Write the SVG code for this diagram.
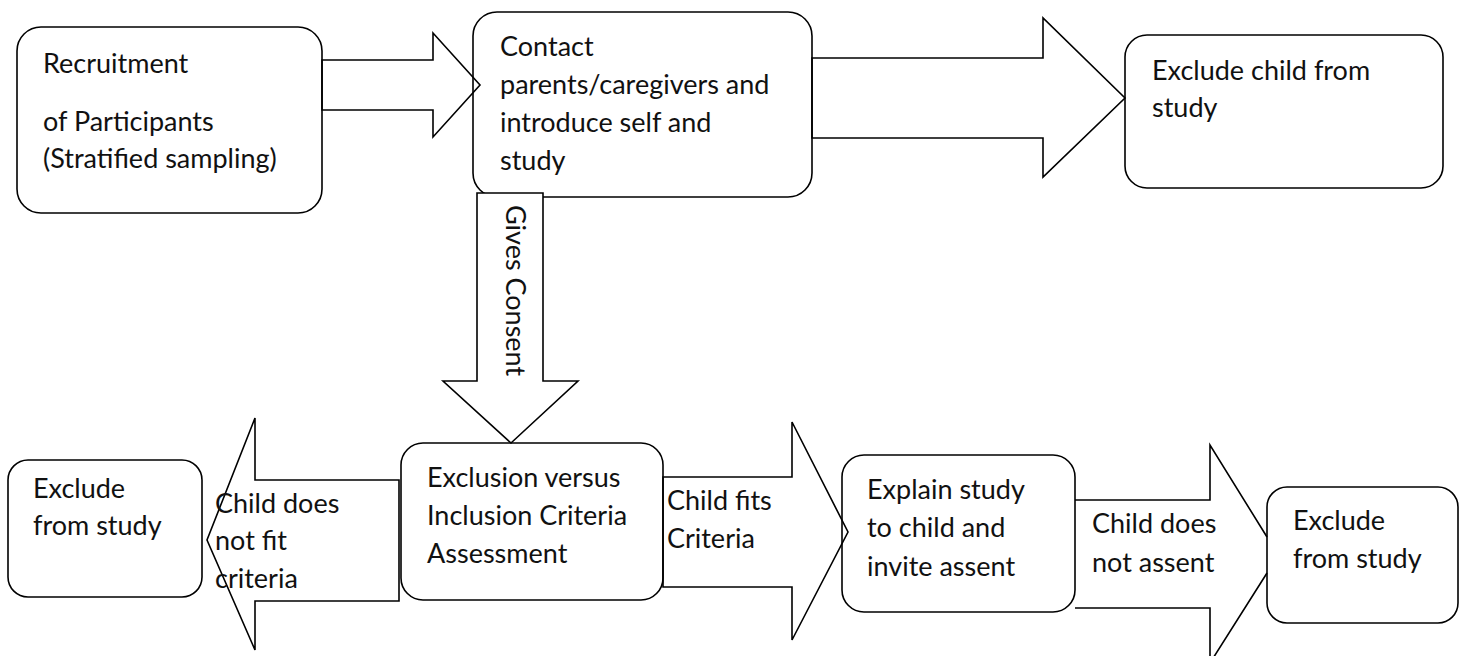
<svg xmlns="http://www.w3.org/2000/svg" width="1466" height="656" viewBox="0 0 1466 656">
<style>
.box{fill:#fff;stroke:#000;stroke-width:1.6}
.arr{fill:none;stroke:#000;stroke-width:1.6;stroke-linejoin:miter}
.arrw{fill:#fff;stroke:#000;stroke-width:1.6}
text{font-family:Lato,"Open Sans","Liberation Sans",sans-serif;font-size:27px;fill:#111}
</style>
<rect width="1466" height="656" fill="#fff"/>
<g id="n1"><rect class="box" x="17" y="27" width="305" height="186" rx="24"/>
<text x="43" y="73">Recruitment</text><text x="43" y="131">of Participants</text><text x="43" y="168">(Stratified sampling)</text></g>
<g id="n2"><rect class="box" x="473" y="12" width="339" height="185" rx="24"/>
<text x="500" y="56">Contact</text><text x="500" y="94">parents/caregivers and</text><text x="500" y="132">introduce self and</text><text x="500" y="170">study</text></g>
<g id="n3"><rect class="box" x="1125" y="35" width="318" height="153" rx="22"/>
<text x="1152" y="80">Exclude child from</text><text x="1152" y="117">study</text></g>
<g id="n4"><rect class="box" x="401" y="443" width="262" height="157" rx="22"/>
<text x="427" y="487">Exclusion versus</text><text x="427" y="525">Inclusion Criteria</text><text x="427" y="563">Assessment</text></g>
<g id="n5"><rect class="box" x="842" y="455" width="233" height="157" rx="22"/>
<text x="867" y="499">Explain study</text><text x="867" y="537">to child and</text><text x="867" y="576">invite assent</text></g>
<g id="n6"><rect class="box" x="8" y="460" width="194" height="137" rx="20"/>
<text x="33" y="498">Exclude</text><text x="33" y="535">from study</text></g>
<g id="n7"><rect class="box" x="1267" y="487" width="191" height="136" rx="20"/>
<text x="1293" y="530">Exclude</text><text x="1293" y="568">from study</text></g>
<g id="connectors">
<path class="arr" d="M322,60 H433 V33 L480,85 L433,137 V110 H322 Z"/>
<path class="arr" d="M812,58 H1043 V18 L1125,98 L1043,177 V138 H812 Z"/>
<path class="arrw" d="M477,193 H543 V381 H578 L511,443 L443,381 H477 Z"/>
<text transform="translate(506,205) rotate(90)">Gives Consent</text>
<path class="arr" d="M399,480 H255 V418 L207,540 L255,650 V601 H399 Z"/>
<text x="215" y="513">Child does</text><text x="215" y="550">not fit</text><text x="215" y="588">criteria</text>
<path class="arr" d="M663,477 H792 V422 L848,532 L792,640 V587 H663 Z"/>
<text x="667" y="510">Child fits</text><text x="667" y="548">Criteria</text>
<path class="arr" d="M1075,500 H1210 V445 L1267,537 M1267,573 L1210,663 V608 H1075"/>
<text x="1092" y="533">Child does</text><text x="1092" y="572">not assent</text>
</g>
</svg>
